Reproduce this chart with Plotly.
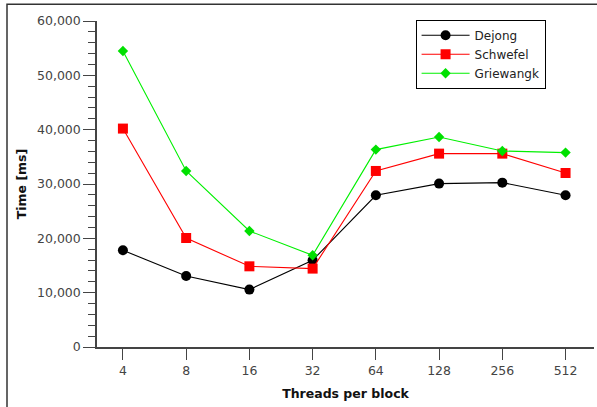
import plotly.graph_objects as go

threads = ["4", "8", "16", "32", "64", "128", "256", "512"]
dejong = [17800, 13070, 10560, 15960, 27920, 30070, 30250, 27920]
schwefel = [40200, 20060, 14850, 14430, 32400, 35590, 35590, 32020]
griewangk = [54480, 32400, 21350, 16880, 36330, 38650, 36070, 35780]

y_ticks = [0, 10000, 20000, 30000, 40000, 50000, 60000]
y_labels = ["0", "10,000", "20,000", "30,000", "40,000", "50,000", "60,000"]

FONT = "DejaVu Sans"

fig = go.Figure()
fig.add_trace(go.Scatter(x=threads, y=dejong, name="Dejong", mode="lines+markers",
                         line=dict(color="#000000", width=1.1),
                         marker=dict(symbol="circle", size=10, color="#000000")))
fig.add_trace(go.Scatter(x=threads, y=schwefel, name="Schwefel", mode="lines+markers",
                         line=dict(color="#ff0000", width=1.1),
                         marker=dict(symbol="square", size=10, color="#ff0000")))
fig.add_trace(go.Scatter(x=threads, y=griewangk, name="Griewangk", mode="lines+markers",
                         line=dict(color="#00f000", width=1.1),
                         marker=dict(symbol="diamond", size=8, color="#00e000")))

fig.update_layout(
    width=597, height=407,
    margin=dict(l=97, r=3, t=21, b=60),
    paper_bgcolor="white", plot_bgcolor="white",
    font=dict(family=FONT, size=12, color="#444444"),
    showlegend=True,
    legend=dict(x=0.641, y=1.004, xanchor="left", yanchor="top",
                bgcolor="white", bordercolor="#000000", borderwidth=1,
                font=dict(family=FONT, size=12, color="#222222"),
                tracegroupgap=0, itemwidth=48, entrywidth=156),
    xaxis=dict(type="category", range=[-0.41, 7.45],
               showline=True, linecolor="#444444", linewidth=1.5,
               ticks="outside", ticklen=11, tickcolor="#444444", tickwidth=1.2,
               showgrid=False, zeroline=False,
               tickfont=dict(family=FONT, size=12.5, color="#444444"),
               title=dict(text="<b>Threads per block</b>", standoff=12,
                          font=dict(family=FONT, size=12.5, color="#111111"))),
    yaxis=dict(range=[0, 60000], tickvals=y_ticks, ticktext=y_labels,
               showline=True, linecolor="#444444", linewidth=1.5,
               ticks="outside", ticklen=12, tickcolor="#444444", tickwidth=1.2,
               minor=dict(dtick=2000, ticks="outside", ticklen=7, tickcolor="#444444", tickwidth=1.2, showgrid=False),
               showgrid=False, zeroline=False,
               tickfont=dict(family=FONT, size=12.5, color="#444444"),
               title=dict(text="<b>Time [ms]</b>", standoff=8,
                          font=dict(family=FONT, size=12.5, color="#111111"))),
    shapes=[dict(type="rect", xref="paper", yref="paper",
                 x0=(7 - 97) / 497, x1=(605 - 97) / 497,
                 y0=(346.7 - 415) / 326, y1=(346.7 - 4) / 326,
                 line=dict(color="#333333", width=1.5), fillcolor="rgba(0,0,0,0)", layer="below")],
)

fig.write_html("out.html")
